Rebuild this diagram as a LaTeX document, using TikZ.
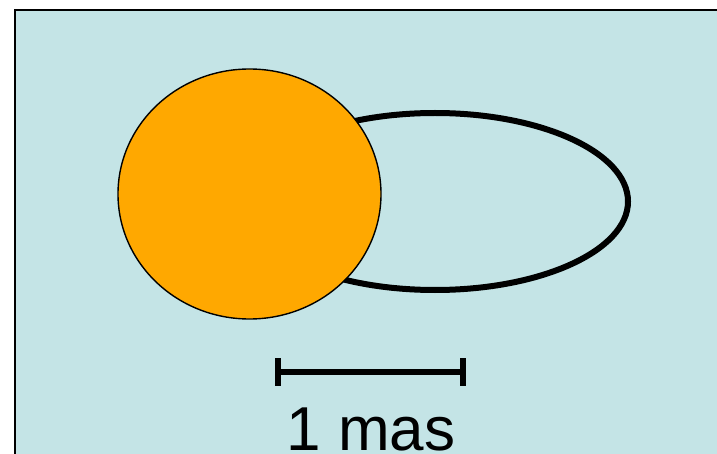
\documentclass[tikz,border=0pt]{standalone}
\usepackage{fontspec}
\setmainfont{Liberation Sans}
\definecolor{skyblue}{RGB}{196,228,230}
\definecolor{starorange}{RGB}{255,168,0}

\begin{document}
\begin{tikzpicture}[
  x=1pt, y=-1pt,
  sky/.style={fill=skyblue, draw=black, line width=2pt},
  orbit/.style={line width=6pt, black},
  star/.style={fill=starorange, draw=black, line width=1.4pt},
  bar/.style={line width=6.5pt, black},
  every node/.style={font=\fontsize{62}{70}\selectfont, inner sep=0pt}
]
  \useasboundingbox (0,0) rectangle (717,454);

  \draw[sky] (15,10) rectangle (740,480);
  \draw[orbit] (435,201.5) ellipse [x radius=193, y radius=88.5];
  \draw[star] (249.5,194) ellipse [x radius=131.5, y radius=125];

  \coordinate (bar west) at (278,372);
  \coordinate (bar east) at (463,372);
  \draw[bar] (bar west) -- (bar east);
  \draw[bar] ([yshift=14pt]bar west) -- ([yshift=-14pt]bar west);
  \draw[bar] ([yshift=14pt]bar east) -- ([yshift=-14pt]bar east);

  \node[anchor=base] (scale label) at (371,450) {1 mas};
\end{tikzpicture}
\end{document}
